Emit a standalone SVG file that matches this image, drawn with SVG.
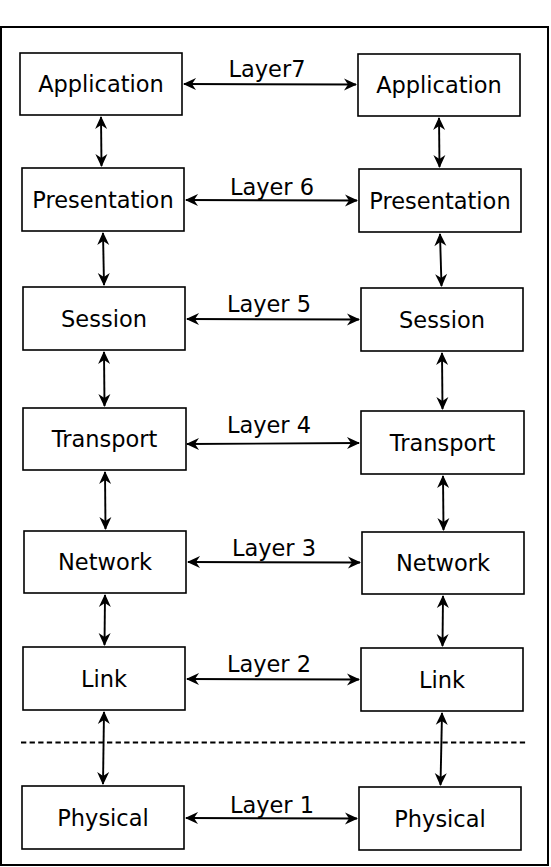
<svg xmlns="http://www.w3.org/2000/svg" width="551" height="867" viewBox="0 0 551 867">
<defs>
<marker id="ah" markerUnits="userSpaceOnUse" viewBox="-13 -7 15 14" refX="0" refY="0" markerWidth="15" markerHeight="14" orient="auto-start-reverse">
<path d="M1,0 L-12,-6 L-8,0 L-12,6 Z" fill="#000"/>
</marker>
<style>
.box{fill:#fff;stroke:#000;stroke-width:1.6}
.t{font-family:"DejaVu Sans",sans-serif;font-size:22.5px;text-anchor:middle;fill:#000}
.c{stroke:#000;stroke-width:1.9;fill:none;marker-start:url(#ah);marker-end:url(#ah)}
</style>
</defs>
<rect x="1" y="27" width="547" height="838" fill="#fff" stroke="#000" stroke-width="2"/>
<g id="connectors">
<line class="c" x1="184" y1="84" x2="356" y2="84.5"/>
<line class="c" x1="186" y1="200" x2="357" y2="200.5"/>
<line class="c" x1="187" y1="319" x2="359" y2="319.5"/>
<line class="c" x1="187" y1="444" x2="359" y2="443"/>
<line class="c" x1="188" y1="562" x2="360" y2="562.5"/>
<line class="c" x1="187" y1="679" x2="359" y2="679.5"/>
<line class="c" x1="186" y1="818" x2="357" y2="818.5"/>
<line class="c" x1="101" y1="117" x2="101.5" y2="166"/>
<line class="c" x1="103" y1="233" x2="104" y2="285"/>
<line class="c" x1="104" y1="352" x2="104.5" y2="406"/>
<line class="c" x1="105" y1="472" x2="105.5" y2="529"/>
<line class="c" x1="105" y1="595" x2="104.5" y2="645"/>
<line class="c" x1="104" y1="712" x2="103" y2="784"/>
<line class="c" x1="439" y1="118" x2="439.5" y2="167"/>
<line class="c" x1="440" y1="234" x2="441.5" y2="286"/>
<line class="c" x1="442" y1="353" x2="442.5" y2="409"/>
<line class="c" x1="443" y1="476" x2="443.5" y2="530"/>
<line class="c" x1="443" y1="596" x2="442.5" y2="646"/>
<line class="c" x1="442" y1="713" x2="440.5" y2="785"/>
<line x1="21" y1="742.5" x2="526" y2="742.5" stroke="#000" stroke-width="1.8" stroke-dasharray="5.3,3.3"/>
</g>
<g id="labels">
<text class="t" x="267" y="77">Layer7</text>
<text class="t" x="272" y="195">Layer 6</text>
<text class="t" x="269" y="312">Layer 5</text>
<text class="t" x="269" y="433">Layer 4</text>
<text class="t" x="274" y="556">Layer 3</text>
<text class="t" x="269" y="672">Layer 2</text>
<text class="t" x="272" y="813">Layer 1</text>
</g>
<g id="l-app"><rect class="box" x="20" y="53" width="162" height="62"/><text class="t" x="101" y="92">Application</text></g>
<g id="l-pres"><rect class="box" x="22" y="168" width="162" height="63"/><text class="t" x="103" y="207.5">Presentation</text></g>
<g id="l-sess"><rect class="box" x="23" y="287" width="162" height="63"/><text class="t" x="104" y="326.5">Session</text></g>
<g id="l-trans"><rect class="box" x="23" y="408" width="163" height="62"/><text class="t" x="104.5" y="447">Transport</text></g>
<g id="l-net"><rect class="box" x="24" y="531" width="162" height="62"/><text class="t" x="105" y="570">Network</text></g>
<g id="l-link"><rect class="box" x="23" y="647" width="162" height="63"/><text class="t" x="104" y="686.5">Link</text></g>
<g id="l-phys"><rect class="box" x="22" y="786" width="162" height="63"/><text class="t" x="103" y="825.5">Physical</text></g>
<g id="r-app"><rect class="box" x="358" y="54" width="162" height="62"/><text class="t" x="439" y="93">Application</text></g>
<g id="r-pres"><rect class="box" x="359" y="169" width="162" height="63"/><text class="t" x="440" y="208.5">Presentation</text></g>
<g id="r-sess"><rect class="box" x="361" y="288" width="162" height="63"/><text class="t" x="442" y="327.5">Session</text></g>
<g id="r-trans"><rect class="box" x="361" y="411" width="163" height="63"/><text class="t" x="442.5" y="450.5">Transport</text></g>
<g id="r-net"><rect class="box" x="362" y="532" width="162" height="62"/><text class="t" x="443" y="571">Network</text></g>
<g id="r-link"><rect class="box" x="361" y="648" width="162" height="63"/><text class="t" x="442" y="687.5">Link</text></g>
<g id="r-phys"><rect class="box" x="359" y="787" width="162" height="63"/><text class="t" x="440" y="826.5">Physical</text></g>
</svg>
